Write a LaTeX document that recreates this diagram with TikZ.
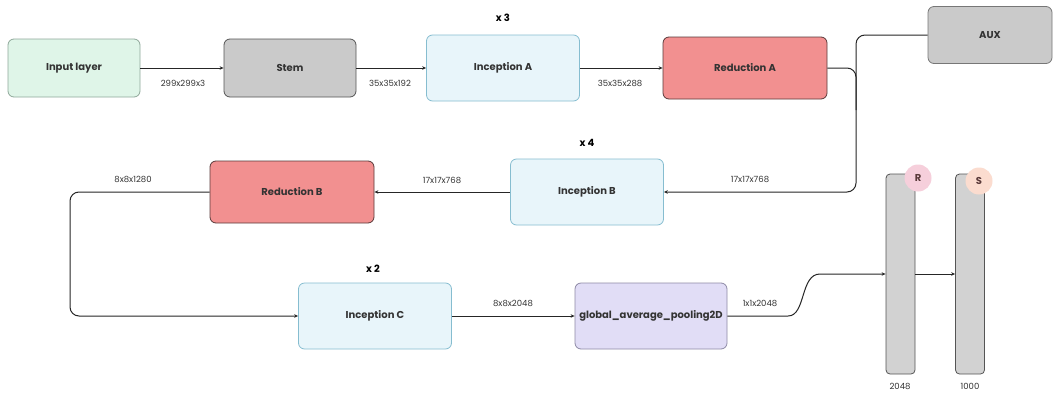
\documentclass[tikz,border=0pt]{standalone}
\usepackage{fontspec}
\setmainfont{Poppins}
\usetikzlibrary{arrows.meta}
\definecolor{txt}{HTML}{333333}
\definecolor{greenf}{HTML}{DFF5E8}
\definecolor{greend}{HTML}{8FA89A}
\definecolor{grayf}{HTML}{CACACA}
\definecolor{grayd}{HTML}{555555}
\definecolor{bluef}{HTML}{E8F5FA}
\definecolor{blued}{HTML}{86BDD0}
\definecolor{redf}{HTML}{F29090}
\definecolor{redd}{HTML}{5A3A3A}
\definecolor{lavf}{HTML}{E1DDF6}
\definecolor{lavd}{HTML}{8E8AA6}
\definecolor{barf}{HTML}{D2D2D2}
\definecolor{pinkc}{HTML}{F6CFDB}
\definecolor{peachc}{HTML}{FBDCCF}
\tikzset{
  box/.style={draw, rounded corners=6pt, line width=0.8pt, minimum height=58pt, font=\fontsize{10}{11}\selectfont\bfseries, text=txt, inner sep=2pt},
  inbox/.style={box, fill=greenf, draw=greend, minimum width=132pt},
  stembox/.style={box, fill=grayf, draw=grayd, minimum width=132pt},
  incbox/.style={box, fill=bluef, draw=blued, minimum width=153pt, minimum height=66pt},
  redbox/.style={box, fill=redf, draw=redd, minimum width=164pt, minimum height=62pt},
  auxbox/.style={box, fill=grayf, draw=grayd!80, minimum width=124pt, minimum height=57pt},
  gapbox/.style={box, fill=lavf, draw=lavd, minimum width=152pt, minimum height=66pt},
  bar/.style={draw=grayd, fill=barf, rounded corners=4pt, line width=0.8pt, minimum width=29pt, minimum height=200pt, inner sep=0pt},
  elabel/.style={font=\fontsize{8.5}{9}\selectfont, text=txt},
  rep/.style={font=\fontsize{10}{11}\selectfont\bfseries, text=black},
  conn/.style={line width=1pt, draw=black!85},
  arr/.style={conn, -{Stealth[length=4pt,width=3.5pt]}},
  circ/.style={circle, minimum size=27pt, inner sep=0pt, font=\fontsize{10}{11}\selectfont\bfseries, text=redd}
}
\begin{document}
\begin{tikzpicture}[x=1pt,y=-1pt]
\useasboundingbox[fill=white] (0,0) rectangle (1057,394);
% nodes
\node[inbox] (in) at (74,68) {Input layer};
\node[stembox] (stem) at (290,68) {Stem};
\node[incbox] (incA) at (503,68) {Inception A};
\node[rep] (repA) at (503,18) {x 3};
\node[redbox] (redA) at (745,68) {Reduction A};
\node[auxbox] (aux) at (990,35) {AUX};
\node[incbox] (incB) at (587,192) {Inception B};
\node[rep] (repB) at (587,143) {x 4};
\node[redbox] (redB) at (292,192) {Reduction B};
\node[incbox] (incC) at (375,316) {Inception C};
\node[rep] (repC) at (373,269) {x 2};
\node[gapbox] (gap) at (651,316) {global\_average\_pooling2D};
\node[bar] (R) at (900.5,274) {};
\node[bar] (S) at (970,274) {};
\node[circ, fill=pinkc] (Rc) at (918,178) {R};
\node[circ, fill=peachc] (Sc) at (979,181) {S};
\node[elabel] (lR) at (900,386) {2048};
\node[elabel] (lS) at (970,386) {1000};
% edge labels
\node[elabel] (l1) at (183,83) {299x299x3};
\node[elabel] (l2) at (390,83) {35x35x192};
\node[elabel] (l3) at (620,83) {35x35x288};
\node[elabel] (l4) at (750,179) {17x17x768};
\node[elabel] (l5) at (442,180) {17x17x768};
\node[elabel] (l6) at (133,179) {8x8x1280};
\node[elabel] (l7) at (513,303) {8x8x2048};
\node[elabel] (l8) at (760,303) {1x1x2048};
% coordinates
\coordinate (j) at (856,192);
\coordinate (j2) at (856,110);
\coordinate (k) at (70,316);
\coordinate (c1) at (788,316);
\coordinate (c2) at (820,274);
% connectors
\draw[arr] (in.east) -- (stem.west);
\draw[arr] (stem.east) -- (incA.west);
\draw[arr] (incA.east) -- (redA.west);
\draw[arr, rounded corners=9pt] (redA.east) -| (j) -- (incB.east);
\draw[conn, rounded corners=9pt] (aux.west) -| (j2);
\draw[arr] (incB.west) -- (redB.east);
\draw[arr, rounded corners=9pt] (redB.west) -| (k) -- (incC.west);
\draw[arr] (incC.east) -- (gap.west);
\draw[arr] (gap.east) -- (c1) .. controls (806,316) and (800,274) .. (c2) -- (R.west);
\draw[arr] (R.east) -- (S.west);
\end{tikzpicture}
\end{document}
